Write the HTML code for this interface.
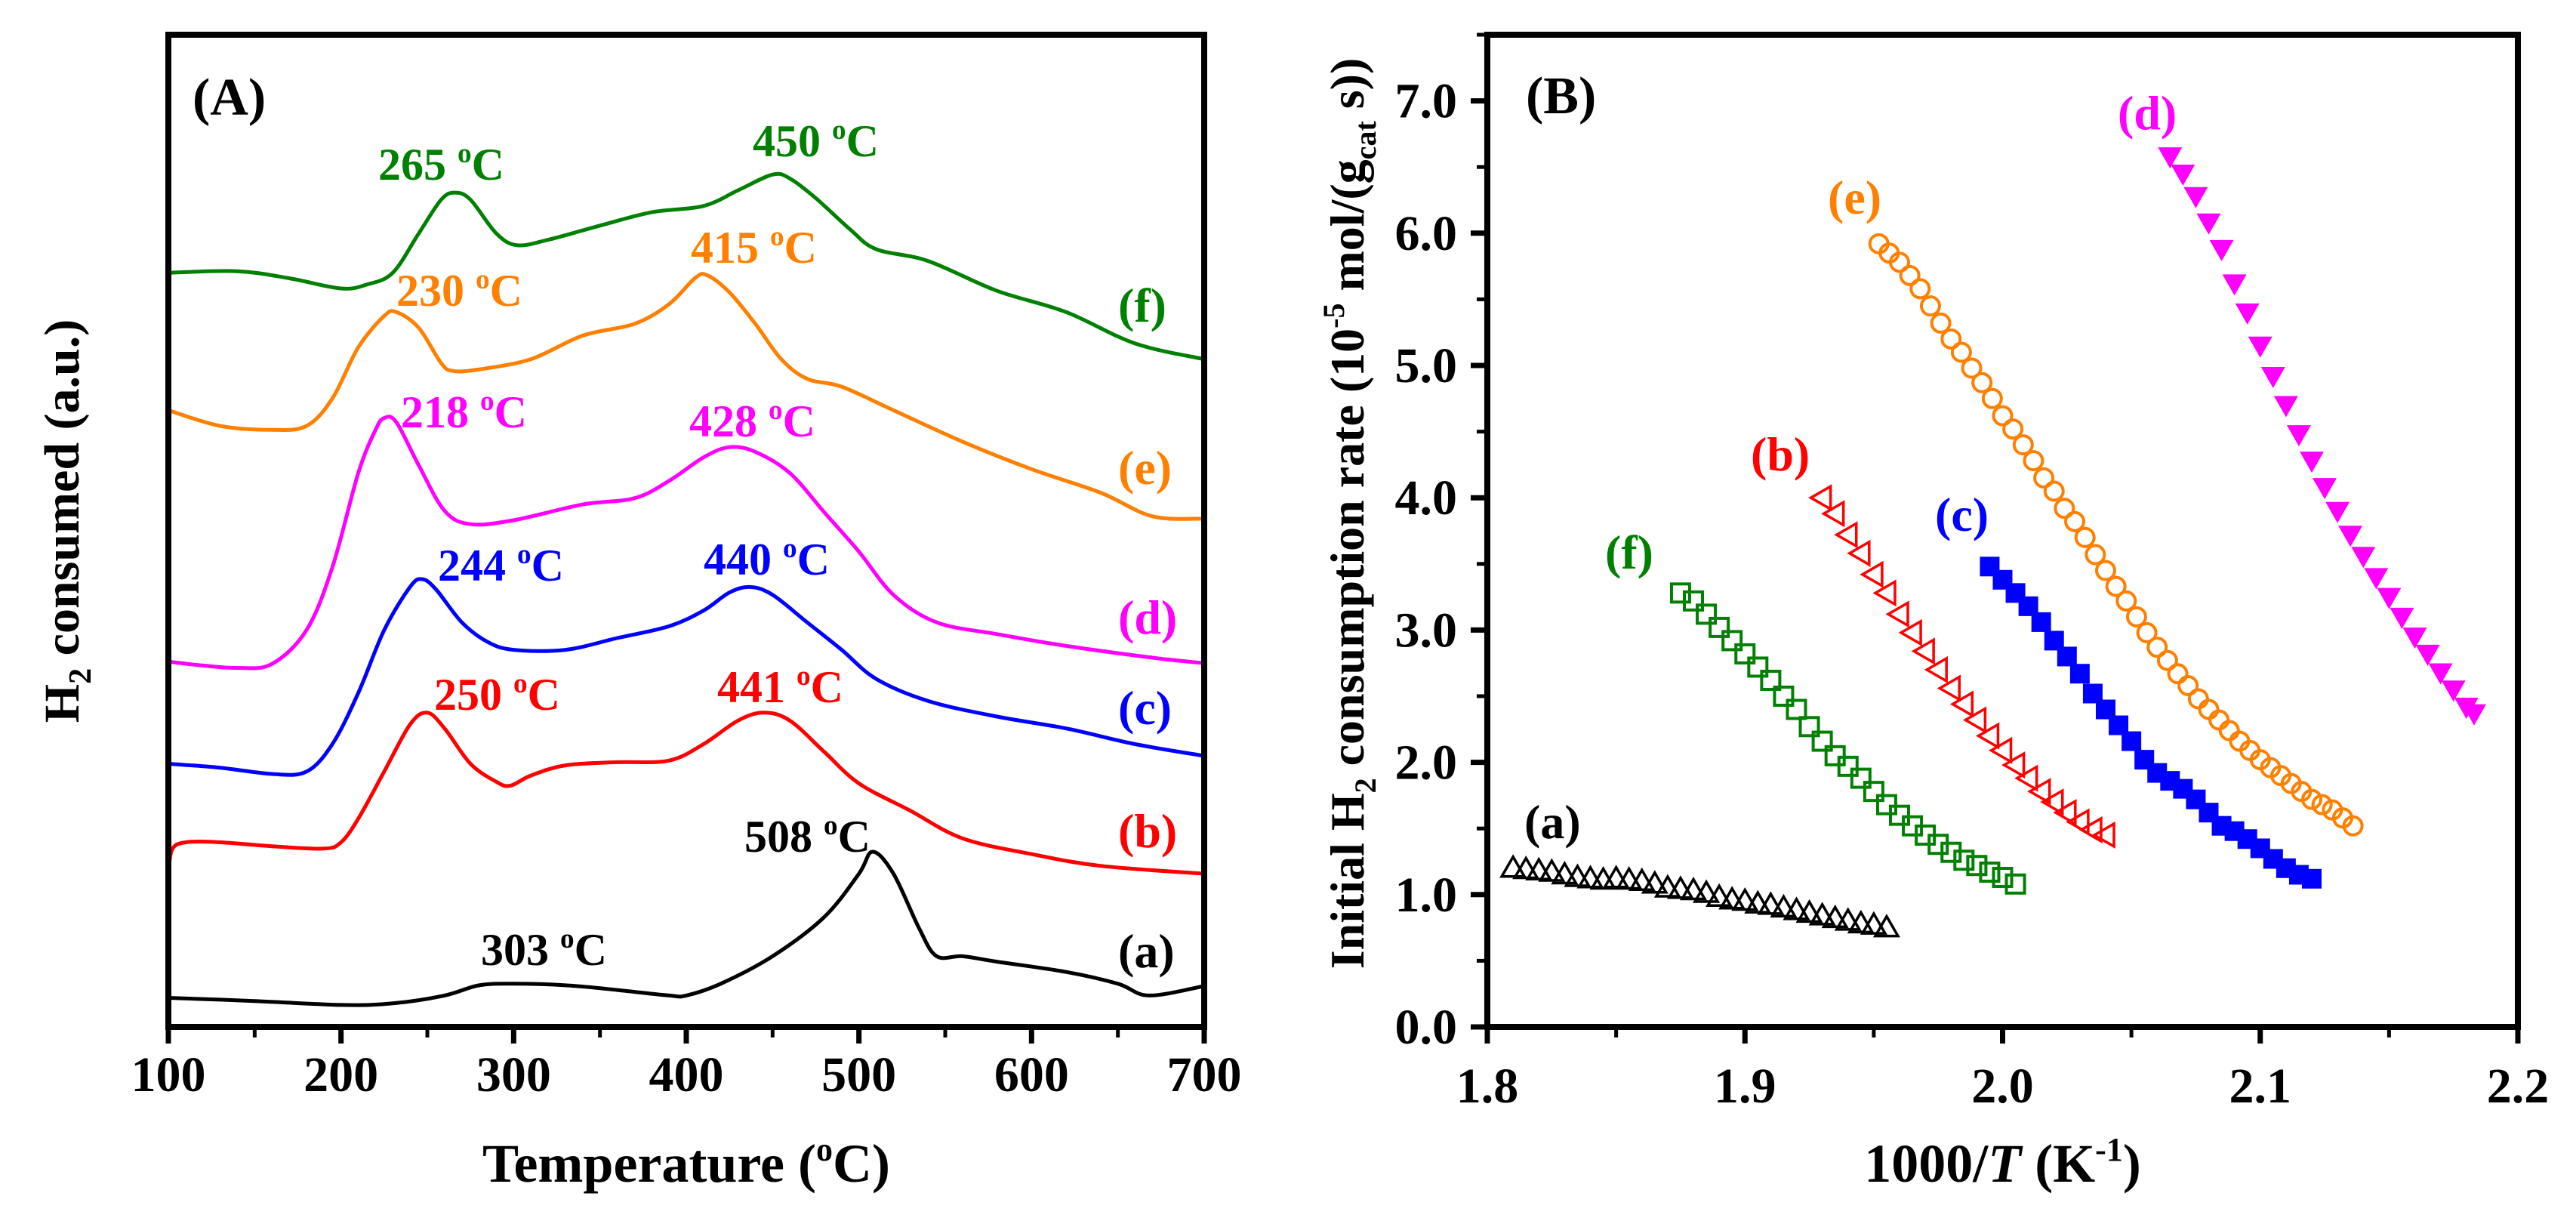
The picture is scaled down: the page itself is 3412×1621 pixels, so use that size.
<!DOCTYPE html>
<html><head><meta charset="utf-8"><style>
html,body{margin:0;padding:0;background:#fff;}
svg{display:block;}
text{font-family:"Liberation Serif",serif;font-weight:bold;}
</style></head>
<body>
<svg id="fig" xmlns="http://www.w3.org/2000/svg" width="3412" height="1621" viewBox="0 0 3412 1621">
<rect x="0" y="0" width="3412" height="1621" fill="#fff"/>
<g id="panelA"></g>
<g id="panelB"></g>
</svg>
<script>
// ---------- Panel A data (TPR profiles) ----------
const tempsF = [100,140,170,200,215,230,245,258,266,275,290,302,320,350,380,410,430,450,460,475,495,510,540,580,620,660,700];
const sigF   = [960,962,953,940,945,960,1010,1053,1062,1053,1010,995,1002,1020,1037,1045,1065,1085,1080,1055,1015,990,975,937,910,870,850];
const tempsE = [100,130,160,180,195,210,225,232,245,258,265,280,310,340,370,390,405,412,425,440,455,470,490,520,560,600,640,670,700];
const sigE   = [785,765,760,765,800,865,905,910,890,845,835,837,850,880,895,920,953,957,935,895,850,825,815,785,745,710,680,650,647];
const tempsD = [100,120,140,160,180,195,210,220,225,232,245,260,275,300,340,370,390,410,425,440,460,480,500,520,545,580,620,670,700];
const sigD   = [465,460,457,462,505,585,705,760,775,770,715,657,640,645,665,673,695,725,738,732,705,655,605,550,515,500,485,470,463];
const tempsC = [100,130,160,180,195,210,225,240,247,255,270,285,300,330,360,390,410,425,437,450,470,490,510,540,580,620,660,700];
const sigC   = [335,330,322,325,360,425,505,560,570,557,515,490,480,480,495,510,530,553,560,550,515,480,443,415,395,380,360,345];
const tempsB = [100,102,110,130,160,190,200,210,225,240,250,260,275,290,298,310,330,360,390,410,430,445,460,480,500,530,560,600,640,700];
const sigB   = [190,225,235,235,230,227,235,265,325,385,400,380,335,312,307,320,333,337,339,360,390,400,390,350,310,275,240,220,205,195];
const tempsA = [100,150,200,230,260,280,300,330,360,390,400,420,450,480,500,508,520,535,545,560,580,620,650,668,700];
const sigA   = [37,33,28,30,40,53,55,53,47,40,40,55,90,140,195,223,195,125,90,90,83,70,55,40,52];
const xTicksA = [100,200,300,400,500,600,700];
const xTickLabelsA = ["100","200","300","400","500","600","700"];

// ---------- Panel B data ----------
const xa = [1.810,1.815,1.820,1.825,1.830,1.835,1.840,1.845,1.850,1.855,1.860,1.865,1.870,1.875,1.880,1.885,1.890,1.895,1.900,1.905,1.910,1.915,1.920,1.925,1.930,1.935,1.940,1.945,1.950,1.955];
const ya = [1.20,1.19,1.18,1.17,1.15,1.13,1.12,1.11,1.12,1.11,1.10,1.08,1.05,1.04,1.03,1.01,0.98,0.96,0.95,0.93,0.92,0.90,0.88,0.86,0.84,0.82,0.80,0.78,0.77,0.75];
const xf = [1.875,1.880,1.885,1.890,1.895,1.900,1.905,1.910,1.915,1.920,1.925,1.930,1.935,1.940,1.945,1.950,1.955,1.960,1.965,1.970,1.975,1.980,1.985,1.990,1.995,2.000,2.005];
const yf = [3.28,3.22,3.12,3.02,2.92,2.82,2.72,2.62,2.50,2.40,2.27,2.16,2.05,1.97,1.88,1.78,1.68,1.60,1.52,1.45,1.38,1.32,1.26,1.22,1.17,1.13,1.08];
const xb = [1.930,1.935,1.940,1.945,1.950,1.955,1.960,1.965,1.970,1.975,1.980,1.985,1.990,1.995,2.000,2.005,2.010,2.015,2.020,2.025,2.030,2.035,2.040];
const yb = [4.00,3.88,3.72,3.58,3.42,3.28,3.12,2.98,2.84,2.70,2.56,2.44,2.32,2.20,2.09,1.98,1.88,1.78,1.70,1.62,1.55,1.49,1.45];
const xc = [1.995,2.000,2.005,2.010,2.015,2.020,2.025,2.030,2.035,2.040,2.045,2.050,2.055,2.060,2.065,2.070,2.075,2.080,2.085,2.090,2.095,2.100,2.105,2.110,2.115,2.120];
const yc = [3.48,3.38,3.28,3.18,3.06,2.92,2.80,2.67,2.52,2.40,2.28,2.16,2.02,1.92,1.86,1.80,1.72,1.62,1.52,1.48,1.42,1.35,1.27,1.20,1.15,1.12];
const xe = [1.952,1.956,1.960,1.964,1.968,1.972,1.976,1.980,1.984,1.988,1.992,1.996,2.000,2.004,2.008,2.012,2.016,2.020,2.024,2.028,2.032,2.036,2.040,2.044,2.048,2.052,2.056,2.060,2.064,2.068,2.072,2.076,2.080,2.084,2.088,2.092,2.096,2.100,2.104,2.108,2.112,2.116,2.120,2.124,2.128,2.132,2.136];
const ye = [5.92,5.85,5.78,5.68,5.58,5.45,5.32,5.20,5.10,4.98,4.87,4.75,4.62,4.52,4.40,4.28,4.15,4.05,3.92,3.82,3.70,3.57,3.45,3.33,3.22,3.10,2.98,2.87,2.77,2.67,2.58,2.48,2.40,2.32,2.24,2.16,2.09,2.02,1.96,1.90,1.84,1.78,1.72,1.68,1.64,1.58,1.52];
const xd = [2.065,2.070,2.075,2.080,2.085,2.090,2.095,2.100,2.105,2.110,2.115,2.120,2.125,2.130,2.135,2.140,2.145,2.150,2.155,2.160,2.165,2.170,2.175,2.180,2.183];
const yd = [6.58,6.45,6.28,6.08,5.88,5.62,5.40,5.15,4.92,4.70,4.48,4.28,4.08,3.90,3.72,3.56,3.40,3.25,3.10,2.95,2.82,2.68,2.55,2.42,2.37];
const xTicksB = [1.8,1.9,2.0,2.1,2.2];
const xTickLabelsB = ["1.8","1.9","2.0","2.1","2.2"];
const yTicksB = [0,1,2,3,4,5,6,7];
const yTickLabelsB = ["0.0","1.0","2.0","3.0","4.0","5.0","6.0","7.0"];

const NS = "http://www.w3.org/2000/svg";
function mk(tag, attrs, parent){
  const e = document.createElementNS(NS, tag);
  for (const k in attrs) e.setAttribute(k, attrs[k]);
  parent.appendChild(e);
  return e;
}

// ===== Panel A =====
const A = {l:223, r:1595, t:46, b:1360};
const sxA = t => A.l + (t - 100) / 600 * (A.r - A.l);
const syA = v => A.b - v / 1263 * (A.b - A.t);
const gA = document.getElementById('panelA');

function curveA(ts, vs, color, name){
  const P = ts.map((t,i) => [sxA(t), syA(vs[i])]);
  let d = 'M' + P[0][0].toFixed(1) + ' ' + P[0][1].toFixed(1);
  for (let i = 0; i < P.length - 1; i++) {
    const p0 = P[i-1] || P[i], p1 = P[i], p2 = P[i+1], p3 = P[i+2] || P[i+1];
    const c1 = [p1[0] + (p2[0]-p0[0])/6, p1[1] + (p2[1]-p0[1])/6];
    const c2 = [p2[0] - (p3[0]-p1[0])/6, p2[1] - (p3[1]-p1[1])/6];
    d += 'C' + c1[0].toFixed(1) + ' ' + c1[1].toFixed(1) + ' ' + c2[0].toFixed(1) + ' ' + c2[1].toFixed(1) + ' ' + p2[0].toFixed(1) + ' ' + p2[1].toFixed(1);
  }
  const p = mk('path', {d:d, fill:'none', stroke:color, 'stroke-width':5, 'stroke-linejoin':'round'}, gA);
  
  
}
curveA(tempsA, sigA, '#000000', 'curve-a');
curveA(tempsB, sigB, '#ff0000', 'curve-b');
curveA(tempsC, sigC, '#0000ff', 'curve-c');
curveA(tempsD, sigD, '#ff00ff', 'curve-d');
curveA(tempsE, sigE, '#ff8000', 'curve-e');
curveA(tempsF, sigF, '#008000', 'curve-f');

const frameA = mk('rect', {x:A.l, y:A.t, width:A.r-A.l, height:A.b-A.t, fill:'none', stroke:'#000', 'stroke-width':8}, gA);



for (let t = 100; t <= 700; t += 50) {
  const major = (t % 100 === 0);
  const tk = mk('line', {x1:sxA(t), x2:sxA(t), y1:A.b, y2:A.b + (major ? 22 : 14), stroke:'#000', 'stroke-width':major ? 7 : 5}, gA);
  
  
}
xTicksA.forEach((t,i) => {
  const tx = mk('text', {x:sxA(t), y:1445, 'text-anchor':'middle', 'font-size':66}, gA);
  tx.textContent = xTickLabelsA[i];
  
  
});

function label(g, x, y, txt, color, size, name, sup){
  const t = mk('text', {x:x, y:y, fill:color, 'font-size':size}, g);
  
  
  if (sup) {
    const a = mk('tspan', {}, t); a.textContent = txt + ' ';
    const s = mk('tspan', {'font-size':size*0.62, dy:-size*0.38}, t); s.textContent = 'o';
    const c = mk('tspan', {dy:size*0.38}, t); c.textContent = 'C';
  } else t.textContent = txt;
  return t;
}
label(gA, 255, 152, '(A)', '#000', 70, 'panel-label-a');
label(gA, 501, 238, '265', '#008000', 60, 'peak-label-f1', true);
label(gA, 997, 207, '450', '#008000', 60, 'peak-label-f2', true);
label(gA, 525, 405, '230', '#ff8000', 60, 'peak-label-e1', true);
label(gA, 915, 348, '415', '#ff8000', 60, 'peak-label-e2', true);
label(gA, 531, 566, '218', '#ff00ff', 60, 'peak-label-d1', true);
label(gA, 913, 578, '428', '#ff00ff', 60, 'peak-label-d2', true);
label(gA, 580, 769, '244', '#0000ff', 60, 'peak-label-c1', true);
label(gA, 932, 761, '440', '#0000ff', 60, 'peak-label-c2', true);
label(gA, 575, 940, '250', '#ff0000', 60, 'peak-label-b1', true);
label(gA, 950, 930, '441', '#ff0000', 60, 'peak-label-b2', true);
label(gA, 986, 1128, '508', '#000000', 60, 'peak-label-a2', true);
label(gA, 637, 1278, '303', '#000000', 60, 'peak-label-a1', true);
label(gA, 1481, 426, '(f)', '#008000', 64, 'series-label-f');
label(gA, 1481, 641, '(e)', '#ff8000', 64, 'series-label-e');
label(gA, 1481, 839, '(d)', '#ff00ff', 64, 'series-label-d');
label(gA, 1481, 959, '(c)', '#0000ff', 64, 'series-label-c');
label(gA, 1481, 1122, '(b)', '#ff0000', 64, 'series-label-b');
label(gA, 1481, 1281, '(a)', '#000000', 64, 'series-label-a');

(function(){
  const t = mk('text', {x:(A.l+A.r)/2, y:1565, 'text-anchor':'middle', 'font-size':72}, gA);
  
  
  const a = mk('tspan', {}, t); a.textContent = 'Temperature (';
  const s = mk('tspan', {'font-size':44, dy:-28}, t); s.textContent = 'o';
  const c = mk('tspan', {dy:28}, t); c.textContent = 'C)';
  const y = mk('text', {x:0, y:0, 'text-anchor':'middle', 'font-size':66, transform:'translate(104,690) rotate(-90)'}, gA);
  
  
  const y1 = mk('tspan', {}, y); y1.textContent = 'H';
  const y2 = mk('tspan', {'font-size':42, dy:16}, y); y2.textContent = '2';
  const y3 = mk('tspan', {dy:-16}, y); y3.textContent = ' consumed (a.u.)';
})();

// ===== Panel B =====
const B = {l:1970, r:3335, t:46, b:1360};
const sxB = v => B.l + (v - 1.8) / 0.4 * (B.r - B.l);
const syB = v => B.b - v / 7.5 * (B.b - B.t);
const gB = document.getElementById('panelB');

function markers(xs, ys, kind, color, name){
  const g = mk('g', {}, gB);
  
  
  xs.forEach((xv,i) => {
    const x = sxB(xv), y = syB(ys[i]);
    let m;
    if (kind === 'circle') m = mk('circle', {cx:x, cy:y, r:12, fill:'none', stroke:color, 'stroke-width':4}, g);
    else if (kind === 'sqOpen') m = mk('rect', {x:x-12, y:y-12, width:24, height:24, fill:'none', stroke:color, 'stroke-width':4}, g);
    else if (kind === 'sqFill') m = mk('rect', {x:x-13, y:y-13, width:26, height:26, fill:color}, g);
    else if (kind === 'triUp') m = mk('polygon', {points:`${x},${y-15} ${x+15},${y+11} ${x-15},${y+11}`, fill:'none', stroke:color, 'stroke-width':3.5}, g);
    else if (kind === 'triLeft') m = mk('polygon', {points:`${x-15},${y} ${x+11},${y-15} ${x+11},${y+15}`, fill:'none', stroke:color, 'stroke-width':3.5}, g);
    else if (kind === 'triDown') m = mk('polygon', {points:`${x-16},${y-12} ${x+16},${y-12} ${x},${y+16}`, fill:color}, g);
    
    
  });
}
markers(xa, ya, 'triUp', '#000000', 'series-a');
markers(xf, yf, 'sqOpen', '#008000', 'series-f');
markers(xb, yb, 'triLeft', '#ff0000', 'series-b');
markers(xc, yc, 'sqFill', '#0000ff', 'series-c');
markers(xe, ye, 'circle', '#ff8000', 'series-e');
markers(xd, yd, 'triDown', '#ff00ff', 'series-d');

const frameB = mk('rect', {x:B.l, y:B.t, width:B.r-B.l, height:B.b-B.t, fill:'none', stroke:'#000', 'stroke-width':8}, gB);



for (let i = 0; i <= 8; i++) {
  const v = 1.8 + i * 0.05, major = (i % 2 === 0);
  const tk = mk('line', {x1:sxB(v), x2:sxB(v), y1:B.b, y2:B.b + (major ? 22 : 14), stroke:'#000', 'stroke-width':major ? 7 : 5}, gB);
  
  
}
for (let i = 0; i <= 15; i++) {
  const v = i * 0.5, major = (i % 2 === 0);
  const tk = mk('line', {x1:B.l - (major ? 22 : 14), x2:B.l, y1:syB(v), y2:syB(v), stroke:'#000', 'stroke-width':major ? 7 : 5}, gB);
  
  
}
xTicksB.forEach((v,i) => {
  const tx = mk('text', {x:sxB(v), y:1460, 'text-anchor':'middle', 'font-size':66}, gB);
  tx.textContent = xTickLabelsB[i];
  
  
});
yTicksB.forEach((v,i) => {
  const tx = mk('text', {x:1930, y:syB(v) + 22, 'text-anchor':'end', 'font-size':66}, gB);
  tx.textContent = yTickLabelsB[i];
  
  
});
label(gB, 2021, 150, '(B)', '#000', 70, 'panel-label-b');
label(gB, 2805, 171, '(d)', '#ff00ff', 64, 'series-label-d-b');
label(gB, 2421, 283, '(e)', '#ff8000', 64, 'series-label-e-b');
label(gB, 2319, 623, '(b)', '#ff0000', 64, 'series-label-b-b');
label(gB, 2563, 703, '(c)', '#0000ff', 64, 'series-label-c-b');
label(gB, 2126, 753, '(f)', '#008000', 64, 'series-label-f-b');
label(gB, 2019, 1110, '(a)', '#000000', 64, 'series-label-a-b');

(function(){
  const t = mk('text', {x:(B.l+B.r)/2, y:1565, 'text-anchor':'middle', 'font-size':72}, gB);
  
  
  const a = mk('tspan', {}, t); a.textContent = '1000/';
  const b = mk('tspan', {'font-style':'italic'}, t); b.textContent = 'T';
  const c = mk('tspan', {}, t); c.textContent = ' (K';
  const d = mk('tspan', {'font-size':44, dy:-28}, t); d.textContent = '-1';
  const e = mk('tspan', {dy:28}, t); e.textContent = ')';

  const y = mk('text', {x:0, y:0, 'text-anchor':'middle', 'font-size':64, transform:'translate(1806,680) rotate(-90)'}, gB);
  
  
  const y1 = mk('tspan', {}, y); y1.textContent = 'Initial H';
  const y2 = mk('tspan', {'font-size':40, dy:16}, y); y2.textContent = '2';
  const y3 = mk('tspan', {dy:-16}, y); y3.textContent = ' consumption rate (10';
  const y4 = mk('tspan', {'font-size':40, dy:-26}, y); y4.textContent = '-5';
  const y5 = mk('tspan', {dy:26}, y); y5.textContent = ' mol/(g';
  const y6 = mk('tspan', {'font-size':40, dy:16}, y); y6.textContent = 'cat';
  const y7 = mk('tspan', {dy:-16}, y); y7.textContent = ' s))';
})();
</script>
</body></html>
